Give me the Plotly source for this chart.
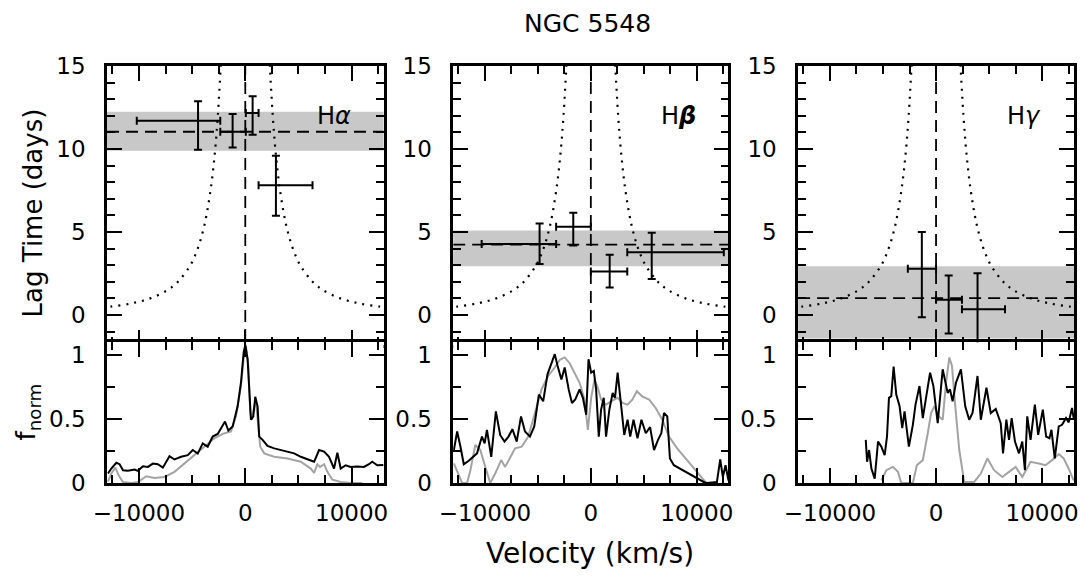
import plotly.graph_objects as go
from plotly.subplots import make_subplots

# ---- velocity-resolved lags (velocity in km/s, lag in days) ----
ha_v = [-4440, -1190, 690, 2880]
ha_vlo = [-10200, -2350, 50, 1250]
ha_vhi = [-2350, 50, 1250, 6320]
ha_lag = [11.70, 11.04, 12.17, 7.81]
ha_laglo = [9.95, 10.09, 10.86, 5.98]
ha_laghi = [12.88, 12.11, 13.18, 9.59]
ha_mean = 11.04
ha_band = [9.89, 12.25]

hb_v = [-4840, -1660, 1780, 5750]
hb_vlo = [-10310, -3280, 0, 3440]
hb_vhi = [-3280, 0, 3440, 12560]
hb_lag = [4.28, 5.31, 2.62, 3.78]
hb_laglo = [3.07, 4.18, 1.66, 2.16]
hb_laghi = [5.51, 6.16, 3.63, 4.95]
hb_mean = 4.24
hb_band = [2.93, 5.09]

hg_v = [-1340, 1190, 3910]
hg_vlo = [-2660, 0, 2440]
hg_vhi = [0, 2440, 6500]
hg_lag = [2.79, 0.91, 0.34]
hg_laglo = [-0.14, -1.11, -2.0]
hg_laghi = [5.00, 2.38, 2.52]
hg_mean = 1.01
hg_band = [-1.41, 2.93]

# virial envelope (dotted), |v| vs lag, same in all panels
env_v = [2150, 2309, 2582, 2828, 3162, 3651, 4000, 4472, 5164, 6325, 7303, 8944, 10690, 12649, 13000]
env_lag = [17.0, 15, 12, 10, 8, 6, 5, 4, 3, 2, 1.5, 1, 0.7, 0.5, 0.47]

# ---- line profiles (normalised flux) ----
ha_rms_v = [-12906, -12594, -12125, -11812, -11500, -11031, -10406, -10094, -9625, -9156, -8687, -8218,
            -7750, -7125, -6656, -6031, -5406, -4937, -4468, -4000, -3531, -3062, -2593, -2125, -1906,
            -1594, -1187, -719, -406, -156, 0, 219, 406, 531, 750, 937, 1156, 1312, 1625, 2094, 2719,
            3344, 3969, 4594, 5219, 5844, 6469, 6937, 7406, 7875, 8344, 8656, 8969, 9437, 9906, 10531,
            11156, 11625, 11937, 12406, 12875, 13000]
ha_rms_f = [0.074, 0.113, 0.158, 0.147, 0.10, 0.095, 0.105, 0.095, 0.13, 0.126, 0.152, 0.147,
            0.12, 0.21, 0.184, 0.205, 0.218, 0.258, 0.23, 0.31, 0.284, 0.363, 0.384, 0.447, 0.481,
            0.41, 0.442, 0.60, 0.784, 1.02, 1.08, 0.968, 0.653, 0.495, 0.52, 0.674, 0.60, 0.363, 0.337,
            0.29, 0.271, 0.258, 0.245, 0.232, 0.205, 0.184, 0.166, 0.258, 0.245, 0.205, 0.113, 0.237,
            0.113, 0.139, 0.126, 0.13, 0.126, 0.147, 0.166, 0.139, 0.139, 0.14]
ha_mean_v = [-12906, -12594, -12219, -11906, -11500, -10719, -10094, -9312, -8531, -7594, -6656, -5719,
             -4781, -3843, -2906, -2125, -1344, -875, -406, -94, 62, 281, 469, 625, 844, 1000, 1219,
             1406, 1781, 2719, 3969, 5219, 6156, 6469, 6781, 7031, 7406, 7719, 8187, 8969, 9906, 11000]
ha_mean_f = [0.01, 0.074, 0.12, 0.06, 0.008, 0.0, 0.008, 0.053, 0.04, 0.047, 0.087, 0.153,
             0.218, 0.284, 0.35, 0.384, 0.403, 0.521, 0.758, 1.02, 1.07, 0.916, 0.547, 0.495, 0.60, 0.639,
             0.468, 0.284, 0.232, 0.205, 0.192, 0.166, 0.113, 0.079, 0.147, 0.126, 0.147, 0.087, 0.026,
             0.008, 0.0, 0.0]

hb_rms_v = [-12937, -12625, -12312, -12000, -11531, -11062, -10750, -10281, -10031, -9812, -9406, -8969,
            -8562, -8156, -7781, -7406, -7000, -6594, -6219, -5750, -5344, -4906, -4500, -4094, -3719,
            -3406, -3156, -2781, -2469, -2094, -1781, -1469, -1062, -750, -437, -219, 31, 281, 500, 750,
            969, 1219, 1437, 1750, 2062, 2281, 2531, 2844, 3156, 3469, 3719, 4031, 4406, 4781, 5187,
            5594, 5969, 6344, 6656, 6906, 7219, 7469, 7844, 10656, 10969, 11906, 12219, 12469, 12719, 13000]
hb_rms_f = [0.258, 0.403, 0.284, 0.147, 0.174, 0.205, 0.232, 0.363, 0.31, 0.416, 0.205, 0.56,
            0.376, 0.324, 0.363, 0.421, 0.324, 0.521, 0.403, 0.363, 0.442, 0.692, 0.639, 0.85, 0.929,
            1.008, 0.921, 0.81, 0.903, 0.732, 0.626, 0.653, 0.732, 0.666, 0.534, 0.968, 0.863, 0.876,
            0.732, 0.363, 0.574, 0.666, 0.363, 0.574, 0.705, 0.666, 0.863, 0.639, 0.376, 0.495, 0.363,
            0.495, 0.35, 0.495, 0.389, 0.437, 0.258, 0.337, 0.389, 0.547, 0.521, 0.192, 0.139, 0.008,
            0.0, 0.008, 0.184, 0.047, 0.139, 0.02]
hb_mean_v = [-12937, -12625, -12156, -11687, -11375, -10906, -10437, -9969, -9500, -9031, -8469, -8094,
             -7625, -7156, -6531, -5906, -5281, -4656, -4031, -3406, -2937, -2469, -2000, -1531, -1062,
             -594, -281, 31, 344, 656, 969, 1437, 1906, 2531, 3000, 3469, 3937, 4344, 4875, 5500, 6125,
             6750, 7375, 8156, 9094, 10031, 10812]
hb_mean_f = [0.153, 0.087, 0.0, 0.0, 0.10, 0.297, 0.258, 0.126, 0.0, 0.074, 0.179, 0.126,
             0.205, 0.271, 0.284, 0.363, 0.547, 0.732, 0.837, 0.903, 0.963, 0.982, 0.937, 0.863, 0.784,
             0.653, 0.416, 0.666, 0.81, 0.745, 0.653, 0.613, 0.639, 0.666, 0.626, 0.613, 0.653, 0.718,
             0.676, 0.653, 0.587, 0.495, 0.363, 0.271, 0.179, 0.087, 0.008]

hg_rms_v = [-6625, -6500, -6312, -6094, -5781, -5469, -5156, -4844, -4625, -4437, -4219, -4000, -3750,
            -3437, -3187, -2969, -2562, -2187, -1937, -1562, -1250, -937, -562, -250, 156, 625, 875,
            1094, 1312, 1562, 1875, 2344, 2750, 3125, 3437, 3906, 4219, 4750, 5156, 5625, 6094, 6312,
            6625, 6875, 7125, 7437, 7812, 8125, 8375, 8594, 8906, 9312, 9625, 10062, 10375, 10687,
            10875, 11187, 11562, 11875, 12250, 12500, 12812, 12969]
hg_rms_f = [0.337, 0.166, 0.258, 0.113, 0.034, 0.324, 0.284, 0.218, 0.363, 0.666, 0.679, 0.911, 0.692,
            0.60, 0.429, 0.56, 0.284, 0.455, 0.613, 0.758, 0.508, 0.666, 0.863, 0.758, 0.468, 0.889, 0.784,
            0.705, 0.732, 0.639, 0.784, 0.889, 0.60, 0.495, 0.547, 0.837, 0.495, 0.745, 0.547, 0.579,
            0.468, 0.232, 0.495, 0.337, 0.508, 0.324, 0.232, 0.324, 0.10, 0.521, 0.337, 0.613, 0.376,
            0.574, 0.363, 0.35, 0.416, 0.192, 0.442, 0.455, 0.508, 0.474, 0.587, 0.508]
hg_mean_v = [-5156, -4687, -4062, -3594, -3281, -2187, -1812, -1250, -781, -469, -156, 250, 625, 937,
             1250, 1500, 1812, 2187, 2656, 3594, 4219, 4844, 5469, 6250, 6875, 7500, 8125, 8906, 9687,
             10312, 10937, 11562, 12031, 12500, 12969]
hg_mean_f = [0.02, 0.10, 0.126, 0.087, 0.0, 0.0, 0.139, 0.179, 0.389, 0.547, 0.60, 0.521, 0.495, 0.784,
             0.982, 0.916, 0.60, 0.258, 0.008, 0.008, 0.074, 0.192, 0.10, 0.047, 0.087, 0.126, 0.047,
             0.166, 0.153, 0.139, 0.179, 0.226, 0.192, 0.113, 0.02]

FONT = "DejaVu Sans"
GRAY = "#a3a3a3"
BAND = "#c8c8c8"

panels = [
    ("H<i>α</i>", ha_v, ha_vlo, ha_vhi, ha_lag, ha_laglo, ha_laghi, ha_mean, ha_band,
     ha_rms_v, ha_rms_f, ha_mean_v, ha_mean_f),
    ("H<b><i>β</i></b>", hb_v, hb_vlo, hb_vhi, hb_lag, hb_laglo, hb_laghi, hb_mean, hb_band,
     hb_rms_v, hb_rms_f, hb_mean_v, hb_mean_f),
    ("H<i>γ</i>", hg_v, hg_vlo, hg_vhi, hg_lag, hg_laglo, hg_laghi, hg_mean, hg_band,
     hg_rms_v, hg_rms_f, hg_mean_v, hg_mean_f),
]

fig = make_subplots(rows=2, cols=3)

# page body has an 8px margin, so the figure is 8px smaller and margins shifted
W, H = 1083, 575
ML, MR, MT, MB = 99, 12, 58, 100
PW, PH = W - ML - MR, H - MT - MB
xdom = [[0.0, 0.286], [0.358, 0.6427], [0.7147, 1.0]]
ysplit = (482.7 - 343.3) / PH
half = 1.25 / PH
VMAX = 13000


def ax(letter, n):
    return letter if n == 1 else f"{letter}{n}"


for i, (name, v, vlo, vhi, lag, laglo, laghi, mean, band, rv, rf, mv, mf) in enumerate(panels):
    col = i + 1
    # shaded band and dashed mean
    fig.add_shape(type="rect", xref=ax("x", col) + " domain", yref=ax("y", col), x0=0, x1=1,
                  y0=band[0], y1=band[1], fillcolor=BAND, line_width=0, layer="below")
    fig.add_trace(go.Scatter(x=[-VMAX, VMAX], y=[mean, mean], mode="lines",
                             line=dict(color="black", width=1.8, dash="12px,7px")), row=1, col=col)
    fig.add_trace(go.Scatter(x=[0, 0], y=[-5, 20], mode="lines",
                             line=dict(color="black", width=1.8, dash="12px,7px")), row=1, col=col)
    # envelope
    fig.add_trace(go.Scatter(x=[-e for e in env_v], y=env_lag, mode="lines", line_shape="spline",
                             line=dict(color="black", width=2.2, dash="2px,6px")), row=1, col=col)
    fig.add_trace(go.Scatter(x=env_v, y=env_lag, mode="lines", line_shape="spline",
                             line=dict(color="black", width=2.2, dash="2px,6px")), row=1, col=col)
    # lags with error bars
    fig.add_trace(go.Scatter(
        x=v, y=lag, mode="markers", marker=dict(size=1, color="black"),
        error_x=dict(type="data", symmetric=False,
                     array=[h - c for h, c in zip(vhi, v)],
                     arrayminus=[c - l for l, c in zip(vlo, v)],
                     color="black", thickness=2, width=4),
        error_y=dict(type="data", symmetric=False,
                     array=[h - c for h, c in zip(laghi, lag)],
                     arrayminus=[c - l for l, c in zip(laglo, lag)],
                     color="black", thickness=2, width=4),
    ), row=1, col=col)
    fig.add_annotation(x=8300, y=12.0, xref=ax("x", col), yref=ax("y", col), text=name,
                       showarrow=False, font=dict(family=FONT, size=24, color="black"))
    # profiles
    fig.add_trace(go.Scatter(x=mv, y=mf, mode="lines", line=dict(color=GRAY, width=2)), row=2, col=col)
    fig.add_trace(go.Scatter(x=rv, y=rf, mode="lines", line=dict(color="black", width=2)), row=2, col=col)

axis_common = dict(showline=True, linecolor="black", linewidth=2.5, mirror="ticks",
                   ticks="inside", tickcolor="black", tickwidth=2, ticklen=15,
                   showgrid=False, zeroline=False,
                   tickfont=dict(family=FONT, size=23, color="black"))


def minor(step):
    return dict(dtick=step, tick0=0, ticks="inside", ticklen=8, tickwidth=2, tickcolor="black")


for i in range(3):
    top, bot = i + 1, i + 4
    fig.update_layout(**{
        ax("xaxis", top): dict(axis_common, domain=xdom[i], range=[-VMAX, VMAX],
                               tickvals=[-10000, 0, 10000], showticklabels=False,
                               anchor=ax("y", top), minor=minor(2500)),
        ax("xaxis", bot): dict(axis_common, domain=xdom[i], range=[-VMAX, VMAX],
                               tickvals=[-10000, 0, 10000], ticktext=["\u221210000", "0", "10000"],
                               anchor=ax("y", bot), ticklabelstandoff=8, minor=minor(2500)),
        ax("yaxis", top): dict(axis_common, domain=[ysplit - half, 1.0], range=[-1.8, 15],
                               tickvals=[0, 5, 10, 15], anchor=ax("x", top),
                               ticklabelstandoff=14, minor=minor(1)),
        ax("yaxis", bot): dict(axis_common, domain=[0.0, ysplit + half], range=[0, 1.1],
                               tickvals=[0, 0.5, 1], ticktext=["0", "0.5", "1"],
                               anchor=ax("x", bot), ticklabelstandoff=14, minor=minor(0.25)),
    })


def px_x(p):
    return (p - 8 - ML) / PW


def px_y(p):
    return 1 - (p - 8 - MT) / PH


fig.add_annotation(x=px_x(590), y=px_y(8), xref="paper", yref="paper", xanchor="center",
                   yanchor="top", text="NGC 5548", showarrow=False, borderpad=0,
                   font=dict(family=FONT, size=25, color="black"))
fig.add_annotation(x=px_x(592), y=px_y(553), xref="paper", yref="paper", xanchor="center",
                   yanchor="middle", text="Velocity (km/s)", showarrow=False,
                   font=dict(family=FONT, size=28, color="black"))
fig.add_annotation(x=px_x(33), y=px_y(213), xref="paper", yref="paper", xanchor="center",
                   yanchor="middle", text="Lag Time (days)", showarrow=False, textangle=-90,
                   font=dict(family=FONT, size=26, color="black"))
fig.add_annotation(x=px_x(27), y=px_y(412), xref="paper", yref="paper", xanchor="center",
                   yanchor="middle", text="f<sub>norm</sub>", showarrow=False, textangle=-90,
                   font=dict(family=FONT, size=26, color="black"))

fig.update_layout(
    width=W, height=H,
    margin=dict(l=ML, r=MR, t=MT, b=MB),
    paper_bgcolor="white", plot_bgcolor="white",
    showlegend=False,
    font=dict(family=FONT, color="black"),
)

fig.write_html("out.html")
